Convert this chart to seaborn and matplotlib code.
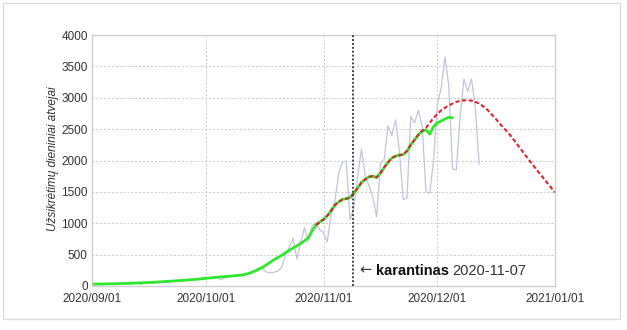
import numpy as np
import pandas as pd
import matplotlib
matplotlib.use("Agg")
import matplotlib.pyplot as plt
import matplotlib.dates as mdates
from matplotlib.patches import Rectangle
import seaborn as sns

# ---------------- data ----------------
start_date = "2020-09-01"
daily_cases = [
    25, 30, 20, 35, 40, 28, 22, 30, 45, 38,
    35, 50, 42, 30, 55, 60, 48, 52, 70, 65,
    58, 80, 75, 90, 85, 100, 95, 110, 105, 120,
    140, 125, 150, 135, 100, 130, 160, 150, 175, 165,
    160, 200, 230, 250, 290, 270, 220, 210, 220, 240,
    300, 500, 620, 760, 430, 700, 930, 720, 960, 1010,
    900, 850, 700, 1150, 1350, 1800, 1980, 1990, 1060, 1250,
    1750, 2180, 1750, 1600, 1420, 1100, 1950, 2020, 2550, 2400,
    2650, 2150, 1380, 1400, 2700, 2600, 2800, 2550, 1500, 1480,
    2000, 2900, 3150, 3650, 3200, 1870, 1850, 2700, 3300, 3100,
    3300, 2850, 1940,
]
avg7 = [
    30, 31, 32, 33, 34, 35, 36, 38, 40, 42,
    44, 46, 48, 50, 53, 56, 59, 62, 66, 70,
    74, 78, 82, 86, 90, 95, 100, 105, 110, 115,
    122, 128, 134, 140, 146, 150, 155, 160, 166, 172,
    180, 195, 215, 240, 270, 300, 340, 380, 420, 455,
    490, 530, 570, 605, 640, 680, 720, 770, 880, 970,
    1020, 1060, 1120, 1200, 1290, 1340, 1380, 1390, 1410, 1480,
    1560, 1650, 1700, 1740, 1750, 1730, 1800, 1890, 1970, 2040,
    2070, 2085, 2095, 2150, 2250, 2330, 2410, 2470, 2490, 2420,
    2540, 2600, 2630, 2660, 2690, 2680,
]
model_offsets = list(range(59, 89)) + list(range(90, 123, 2))
model_values = [
    970, 1020, 1060, 1120, 1200, 1290, 1340, 1380, 1390, 1410,
    1480, 1560, 1650, 1700, 1740, 1750, 1730, 1800, 1890, 1970,
    2040, 2070, 2085, 2095, 2150, 2250, 2330, 2410, 2470, 2520,
    2680, 2800, 2880, 2935, 2960, 2955, 2910, 2820, 2690, 2550,
    2420, 2260, 2100, 1940, 1790, 1640, 1490,
]
quarantine_pos = "2020-11-08 18:00"
x_ticks = ["2020-09-01", "2020-10-01", "2020-11-01", "2020-12-01", "2021-01-01"]
y_ticks = [0, 500, 1000, 1500, 2000, 2500, 3000, 3500, 4000]
ylabel = "Užsikrėtimų dieniniai atvejai"
ann_bold = "karantinas"
ann_date = "2020-11-07"

# ---------------- frames ----------------
t0 = pd.Timestamp(start_date)
df_daily = pd.DataFrame({"date": pd.date_range(t0, periods=len(daily_cases), freq="D"),
                         "v": daily_cases})
df_avg = pd.DataFrame({"date": pd.date_range(t0, periods=len(avg7), freq="D"), "v": avg7})
df_model = pd.DataFrame({"date": [t0 + pd.Timedelta(days=o) for o in model_offsets],
                         "v": model_values})

# ---------------- plot ----------------
sns.set_style("white")
plt.rcParams["font.family"] = ["Liberation Sans", "DejaVu Sans"]

fig = plt.figure(figsize=(6.27, 3.30), dpi=100)
ax = fig.add_axes([92 / 627, 1 - 286 / 330, (555 - 92) / 627, (286 - 35) / 330])

sns.lineplot(data=df_daily, x="date", y="v", ax=ax, color="#c2c4e0", lw=0.9)
sns.lineplot(data=df_avg, x="date", y="v", ax=ax, color="#2ee82e", lw=2.0)
sns.lineplot(data=df_model, x="date", y="v", ax=ax, color="#e0242c", lw=1.5,
             linestyle=(0, (2.0, 1.2)))

ax.axvline(pd.Timestamp(quarantine_pos), color="#444444", lw=1.4, ls=(0, (1, 1)), zorder=5)

ax.set_xlim(pd.Timestamp(x_ticks[0]), pd.Timestamp(x_ticks[-1]))
ax.set_ylim(0, 4000)
ax.set_xticks([pd.Timestamp(t) for t in x_ticks])
ax.xaxis.set_major_formatter(mdates.DateFormatter("%Y/%m/%d"))
ax.set_yticks(y_ticks)
ax.grid(True, color="#c8c8c8", lw=0.7, ls=(0, (2, 2)))
ax.set_axisbelow(True)
for s in ax.spines.values():
    s.set_color("#cfcfcf")
    s.set_linewidth(1.0)
ax.tick_params(axis="both", labelsize=8.5, colors="#333333", length=2,
               color="#cfcfcf")
ax.tick_params(axis="y", pad=1)
ax.tick_params(axis="x", pad=3)
ax.set_xlabel("")
ax.set_ylabel(ylabel, fontsize=8.5, style="italic", color="#333333")
ax.yaxis.set_label_coords(-0.072, 0.506)

# annotation
ax.text(0.578, 0.045, "\u2190", transform=ax.transAxes, fontsize=10.5, color="#333333",
        va="baseline", ha="left", family=["DejaVu Sans"])
ax.text(0.613, 0.045, ann_bold, transform=ax.transAxes, fontsize=10.5, fontweight="bold",
        color="#111111", va="baseline", ha="left")
ax.text(0.777, 0.045, ann_date, transform=ax.transAxes, fontsize=10.5,
        color="#333333", va="baseline", ha="left")

# outer frame
fig.patches.append(Rectangle((3 / 627, 1 - 319 / 330), (620 - 3) / 627, (319 - 3) / 330,
                             transform=fig.transFigure, fill=False,
                             edgecolor="#dddddd", lw=1.0))

fig.savefig("out.png", dpi=100)
